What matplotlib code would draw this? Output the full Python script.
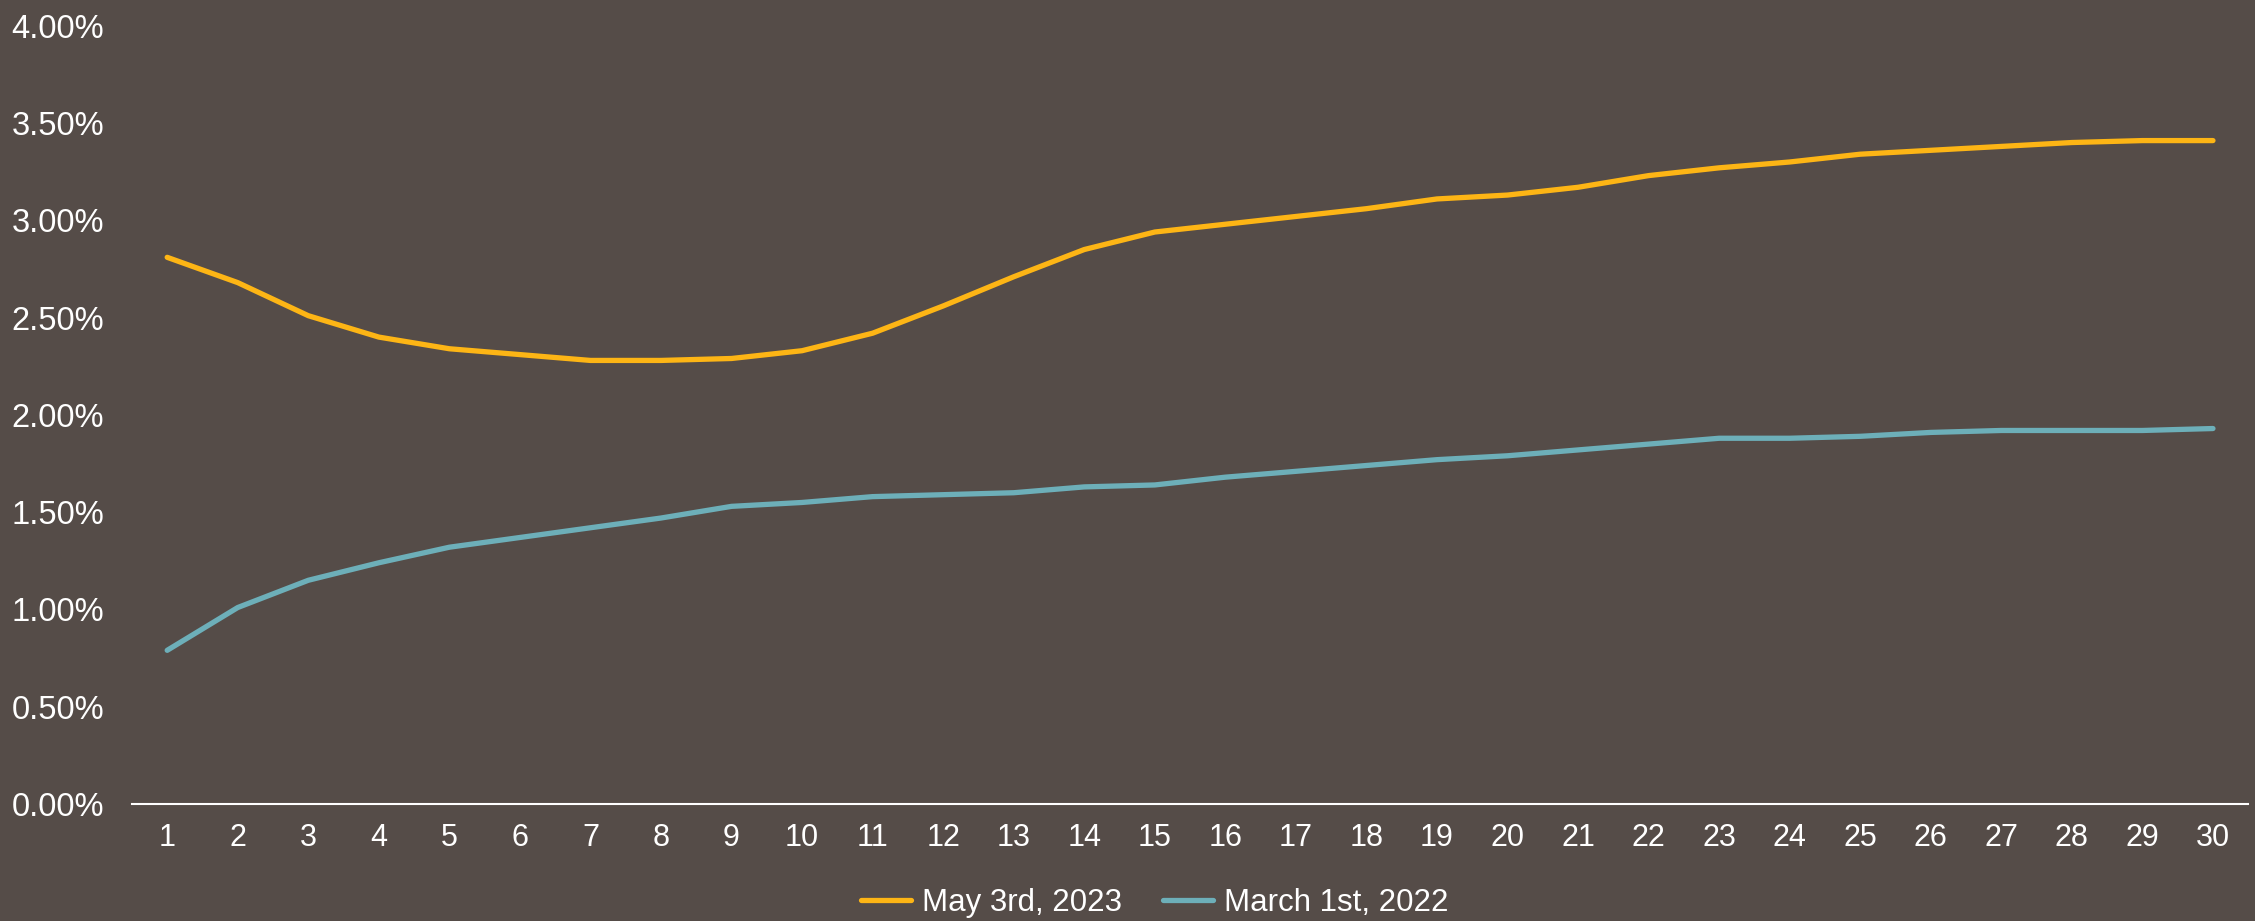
import matplotlib
matplotlib.use("Agg")
import matplotlib.pyplot as plt
from matplotlib.ticker import FuncFormatter, MultipleLocator

maturity = list(range(1, 31))
may_2023 = [2.81, 2.68, 2.51, 2.40, 2.34, 2.31, 2.28, 2.28, 2.29, 2.33,
            2.42, 2.56, 2.71, 2.85, 2.94, 2.98, 3.02, 3.06, 3.11, 3.13,
            3.17, 3.23, 3.27, 3.30, 3.34, 3.36, 3.38, 3.40, 3.41, 3.41]
mar_2022 = [0.79, 1.01, 1.15, 1.24, 1.32, 1.37, 1.42, 1.47, 1.53, 1.55,
            1.58, 1.59, 1.60, 1.63, 1.64, 1.68, 1.71, 1.74, 1.77, 1.79,
            1.82, 1.85, 1.88, 1.88, 1.89, 1.91, 1.92, 1.92, 1.92, 1.93]
series_names = ["May 3rd, 2023", "March 1st, 2022"]

bg = "#554C48"
plt.rcParams['font.family'] = ['Liberation Sans', 'DejaVu Sans']

fig = plt.figure(figsize=(22.55, 9.21), dpi=100, facecolor=bg)
ax = fig.add_axes([0.0585, 0.127, 0.9385, 0.845], facecolor=bg)

ax.plot(maturity, may_2023, color="#FDB515", lw=3.8, solid_capstyle="round", label=series_names[0])
ax.plot(maturity, mar_2022, color="#6DAFB9", lw=3.8, solid_capstyle="round", label=series_names[1])

ax.set_xlim(0.5, 30.5)
ax.set_ylim(0, 4.0)
ax.yaxis.set_major_locator(MultipleLocator(0.5))
ax.yaxis.set_major_formatter(FuncFormatter(lambda v, p: f"{v:.2f}%"))
ax.set_xticks(maturity)
ax.set_xticklabels([str(m) for m in maturity])

for s in ["top", "right", "left"]:
    ax.spines[s].set_visible(False)
ax.spines["bottom"].set_color("white")
ax.spines["bottom"].set_linewidth(1.5)
ax.tick_params(axis="both", length=0, colors="white")
ax.tick_params(axis="y", pad=20, labelsize=23.5)
ax.tick_params(axis="x", pad=14, labelsize=22)

leg = fig.legend(loc="center", bbox_to_anchor=(0.512, 0.02), ncol=2, frameon=False,
                 handlelength=1.6, handletextpad=0.35, columnspacing=1.3,
                 labelcolor="white", prop={'family': ['Liberation Sans'], 'size': 22.5})

fig.savefig("out.png", dpi=100, facecolor=bg)
